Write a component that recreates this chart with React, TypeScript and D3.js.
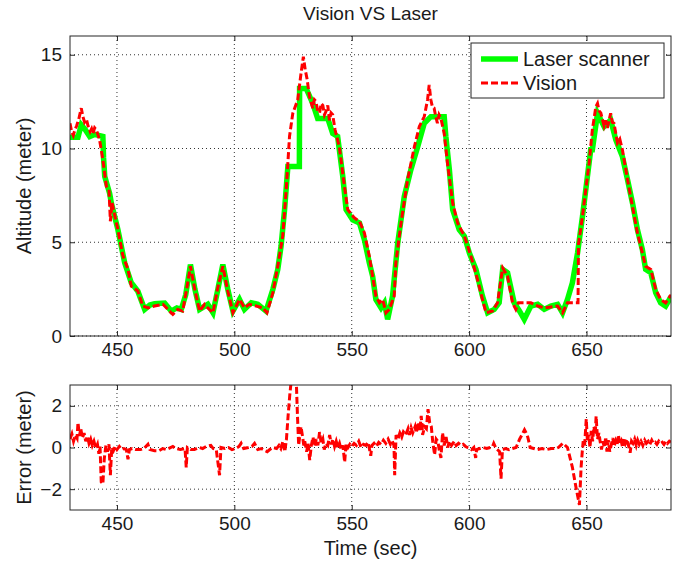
import { useEffect, useRef } from "react";
import * as d3 from "d3";

// laser scanner altitude (time, meter)
const laserT = [430, 433.4, 434.8, 436.5, 438.4, 440.5, 444, 444.3, 444.8, 446.9, 447.6, 450.4, 453.3, 456.1, 458.9, 461.8, 464, 466, 470.3, 473.1, 475.5, 477.4, 479.3, 481.3, 483.2, 485.2, 488.7, 490.9, 493, 495.1, 497.2, 499.4, 502.2, 504.3, 507.2, 510, 513.5, 516.4, 518.5, 519.9, 521.4, 522.8, 527.7, 527.8, 530.6, 533.4, 535.5, 539.8, 541.9, 544, 546.2, 547.6, 550.4, 553.3, 555.4, 557.5, 558.9, 560.3, 562.5, 563.9, 565.3, 567.4, 569.6, 572.4, 575.2, 578.1, 580.9, 583.7, 589.4, 590.1, 591.6, 593, 595.8, 598, 600.1, 602.9, 605.7, 607.9, 610.7, 612.8, 614.3, 616.4, 619.2, 621.5, 623.5, 626.3, 629.2, 632, 634.8, 637.7, 639.8, 641.9, 644, 646.2, 648.3, 650.4, 651.8, 652.5, 654.7, 657.5, 660.3, 662.5, 665.3, 667.5, 669.6, 671.7, 673.8, 675.2, 677.4, 679.5, 681.6, 683.7, 686];
const laserV = [10.6, 10.6, 11.26, 11.0, 10.64, 10.75, 10.64, 9.5, 8.5, 7.6, 7.1, 5.67, 3.9, 2.84, 2.39, 1.42, 1.65, 1.72, 1.76, 1.33, 1.5, 1.42, 2.2, 3.81, 2.5, 1.42, 1.69, 1.24, 2.5, 3.81, 2.5, 1.33, 1.95, 1.42, 1.77, 1.69, 1.33, 2.48, 3.55, 4.79, 6.74, 9.04, 9.04, 13.2, 13.2, 12.4, 11.6, 11.6, 10.8, 10.64, 8.5, 6.74, 6.2, 6.03, 5.14, 3.9, 3.19, 1.95, 1.5, 1.77, 0.89, 2.13, 4.96, 7.45, 8.87, 10.1, 11.35, 11.7, 11.7, 10.64, 8.87, 6.74, 5.67, 5.32, 4.43, 3.55, 2.13, 1.24, 1.42, 1.77, 3.55, 3.37, 1.77, 1.33, 0.89, 1.6, 1.69, 1.42, 1.6, 1.69, 1.24, 1.95, 2.84, 4.43, 6.38, 8.51, 9.93, 9.93, 11.88, 11.17, 11.53, 10.46, 9.57, 8.33, 7.09, 5.67, 4.61, 3.55, 3.37, 2.3, 1.77, 1.6, 2.1];

// vision altitude (time, meter)
const visionT = [430, 430.7, 431.4, 432.1, 432.8, 433.8, 434.8, 435.5, 436.2, 437, 437.7, 438.6, 439.2, 439.8, 440.5, 441.2, 442, 442.6, 444, 445.5, 446.6, 447.2, 447.9, 450.4, 452.5, 454.7, 456.1, 458.9, 461, 463.2, 466, 469.6, 471.7, 473.8, 475.9, 478, 479.7, 481.3, 483.3, 485.2, 487.3, 488.7, 490.9, 493, 495.1, 497.2, 499.4, 502.2, 504.3, 506.4, 509.3, 512.1, 513.9, 516.4, 518.5, 520.6, 522.1, 523.5, 524.9, 527, 528.4, 529.4, 530.2, 531, 532, 533.4, 534.1, 534.8, 535.5, 536.3, 537, 537.7, 538.4, 539.1, 539.8, 540.5, 541.2, 541.9, 542.9, 544.7, 546.9, 548.3, 551.1, 553.3, 555.4, 557.5, 558.9, 560.3, 561.8, 563.2, 564.6, 566, 568.1, 568.8, 571, 573.8, 576.7, 578.8, 580.9, 582.3, 583, 583.7, 584.4, 585.1, 585.8, 586.5, 587.2, 588, 589.4, 590.8, 593, 595.1, 598, 600.8, 603.6, 605.7, 607.2, 610, 612.1, 614.3, 616.4, 618.5, 619.9, 621, 626.3, 629.2, 632, 634.8, 637.7, 639.8, 641.9, 646.4, 646.6, 648.3, 649.7, 651.1, 652.5, 654, 654.7, 655.4, 656.1, 657.5, 658.2, 658.9, 660.3, 661, 661.7, 663.2, 664.2, 665.3, 667.5, 669.6, 671.7, 673.8, 675.2, 677.4, 679.5, 681.6, 683.7, 686];
const visionV = [11.35, 10.9, 10.7, 11.0, 11.2, 11.6, 12.15, 11.7, 11.4, 11.55, 11.2, 10.9, 11.05, 10.8, 11.1, 11.0, 10.7, 10.46, 9.4, 7.98, 7.8, 6.12, 7.1, 5.67, 4.3, 3.55, 2.66, 2.4, 1.6, 1.5, 1.6, 1.69, 1.42, 1.15, 1.42, 1.33, 2.5, 3.72, 2.4, 1.33, 1.69, 1.5, 1.24, 2.6, 3.72, 2.4, 1.24, 1.95, 1.5, 1.69, 1.6, 1.5, 1.24, 2.3, 3.72, 5.32, 7.8, 10.64, 11.88, 12.59, 14.0, 14.9, 14.2, 13.7, 12.77, 12.15, 12.6, 12.5, 12.0, 11.9, 12.4, 12.3, 11.8, 12.0, 12.3, 11.5, 11.9, 11.8, 11.0, 10.1, 7.98, 6.74, 6.3, 6.12, 5.5, 4.25, 3.19, 2.13, 1.77, 1.95, 1.24, 1.42, 2.13, 3.9, 6.03, 8.33, 10.1, 11.17, 11.7, 12.6, 13.39, 12.6, 12.2, 12.15, 11.7, 11.35, 11.8, 11.6, 10.8, 9.2, 7.1, 6.03, 5.32, 4.25, 3.01, 1.95, 1.24, 1.33, 1.77, 3.63, 3.19, 1.77, 1.42, 1.77, 1.77, 1.6, 1.5, 1.55, 1.6, 1.24, 1.77, 1.77, 4.9, 6.38, 7.8, 9.2, 11.0, 12.23, 12.4, 12.0, 11.9, 11.2, 11.5, 11.1, 11.88, 11.4, 11.35, 10.3, 10.5, 9.93, 8.33, 6.9, 5.5, 4.43, 3.72, 3.55, 2.48, 1.95, 1.77, 2.2];

// error (time, meter)
const errT = [430, 430.8, 431.5, 432.3, 433, 433.4, 434, 434.6, 435.3, 436, 436.7, 437.4, 438.1, 438.8, 439.5, 440.2, 441, 441.7, 442.3, 442.8, 443.3, 444, 444.6, 445.3, 446, 446.6, 447.2, 447.8, 448.5, 449.2, 450, 451, 452, 453, 454, 454.7, 455.3, 456.5, 458, 460, 461.5, 463.2, 464, 466, 468, 469.5, 471, 473.8, 475, 477, 479, 479.5, 480, 481.5, 483, 485, 486.5, 488, 490, 491, 492.3, 493.7, 494.3, 496, 497.5, 499, 500.5, 502, 502.9, 504, 506, 507.5, 508.6, 510, 511.5, 513, 514, 515.1, 516.5, 518, 519, 519.8, 520.7, 521.5, 522.2, 522.9, 523.6, 524.5, 525.5, 526.3, 526.9, 527.4, 527.9, 528.4, 529, 529.6, 530, 530.8, 531.4, 532.1, 532.8, 533.5, 534.2, 534.9, 535.6, 536.3, 537, 537.7, 538.3, 539, 539.8, 540.6, 541.3, 542, 542.7, 543.4, 544.1, 544.8, 545.5, 546.2, 547, 547.6, 548.4, 549.2, 550, 551, 552, 553, 554, 555, 556, 557, 558.1, 558.6, 559.5, 560.5, 561.5, 562.5, 563.5, 564.5, 565.5, 566.5, 567.3, 568, 568.3, 568.9, 569.7, 570.5, 571.3, 572, 573, 574, 574.6, 575.3, 576, 577, 577.5, 578.3, 579, 579.6, 580.2, 581, 581.8, 582.5, 583.2, 583.9, 584.5, 585.3, 586, 586.7, 587.4, 588, 588.7, 589.4, 590.2, 590.9, 591.6, 592.5, 593.7, 594.5, 595.5, 596.5, 597.5, 598.5, 599.3, 600.2, 601, 602, 602.8, 603.2, 604.5, 606, 607.5, 609, 610, 610.5, 611.5, 613, 613.6, 614.2, 615.5, 617, 618.5, 620, 620.8, 621.5, 622.5, 623.6, 624.3, 625, 626, 627.5, 629, 631, 633, 635, 637, 638, 639, 639.8, 640.5, 641.9, 643, 644, 645.5, 647, 647.7, 648.2, 648.6, 649.2, 649.9, 650.4, 650.9, 651.5, 652, 652.6, 653.2, 653.7, 654.1, 654.7, 655.3, 655.8, 656.4, 657, 657.6, 658.2, 658.7, 659.3, 659.9, 660.5, 661.2, 661.8, 662.4, 663, 663.6, 664.2, 664.8, 665.4, 666, 666.6, 667.3, 667.9, 668.6, 669.2, 669.8, 670.5, 671.2, 671.8, 672.5, 673.2, 674, 674.8, 675.5, 676.3, 677, 677.8, 678.5, 679.3, 680, 680.8, 681.5, 682.3, 683, 683.8, 684.5, 685.3, 686];
const errV = [0.41, 0.65, 0.3, 0.6, 0.45, 1.2, 0.55, 0.9, 0.45, 0.7, 0.3, 0.55, 0.2, 0.4, 0.1, 0.3, -0.05, 0.15, -0.3, 0.05, -1.65, -1.75, -0.54, 0.1, -0.2, 0.15, -1.33, 0, -0.15, 0.05, -0.1, 0.05, -0.1, -0.05, -0.1, -0.57, -0.1, -0.05, -0.1, -0.1, -0.05, 0.15, -0.1, -0.15, -0.15, -0.05, -0.1, 0.05, -0.05, -0.1, -0.05, -0.95, 0, -0.1, -0.1, 0, -0.05, 0.05, 0.1, -0.05, -0.1, -1.33, 0, -0.05, 0, -0.1, -0.05, 0.05, 0.2, -0.05, 0, 0.05, 0.2, -0.1, -0.05, -0.15, -0.2, -0.1, 0, -0.05, 0.1, -0.05, 0.3, -0.2, 0.4, 1.52, 2.5, 3.5, 4.5, 3.5, 1.5, 0.1, 0.6, 1.0, 0.57, 0.1, 0.3, -0.2, 0.2, -0.6, 0.1, 0.5, 0.05, 0.4, 0.1, 0.74, 0.2, 0.4, -0.1, 0.2, 0.1, 0.6, 0.15, 0.4, 0.05, 0.3, 0, 0.2, -0.1, 0.1, -0.7, 0.2, 0, 0.15, 0.05, 0.2, 0.1, 0.3, 0, 0.15, 0.1, 0.25, -0.4, 0.1, 0.2, 0.05, 0.25, 0.15, 0.35, 0.2, 0.4, 0.15, 0.3, 0.1, -1.33, 0.6, 0.4, 0.7, 0.5, 0.75, 0.6, 0.9, 0.6, 0.95, 0.7, 1.0, 0.7, 1.2, 0.8, 1.52, 0.6, 1.0, 0.9, 1.84, 1.2, 1.0, 0.3, -0.35, 0.4, 0.3, -0.2, -0.5, 0.7, 0.1, 0.5, 0, 0.3, 0.1, 0.3, 0.1, 0.2, 0.1, 0.15, 0.05, 0, -0.05, -0.1, 0, -0.5, -0.1, -0.05, 0, -0.05, 0, 0.05, 0.2, -0.05, -0.2, -1.5, -0.1, -0.05, -0.1, -0.05, 0, 0.2, 0.4, 0.6, 0.85, 0.7, 0.5, 0, -0.05, -0.1, -0.05, -0.1, -0.05, -0.05, 0, 0.1, 0.2, 0.15, 0, -0.5, -0.95, -1.9, -2.76, -0.95, -0.2, 0.3, 0.1, 1.36, 0.3, 0.6, 0, 0.8, 0.3, 1.0, 0.6, 1.5, 0.4, 0.7, 0.3, -0.1, 0.3, 0, 0.5, -0.2, 0.35, -0.2, 0.1, 0.45, 0.05, 0.3, 0.1, 0.6, 0.15, 0.3, 0, 0.45, 0.2, 0.4, 0.1, -0.25, 0.3, 0.2, 0.4, 0.1, 0.35, 0.15, 0.3, 0.1, 0.35, 0.2, 0.3, 0.15, 0.35, 0.2, 0.25, 0.15, 0.3, 0.2, 0.25, 0.15, 0.3, 0.2, 0.3, 0.25];

const xTicks = [450, 500, 550, 600, 650];
const altTicks = [0, 5, 10, 15];
const errTicks = [-2, 0, 2];
const seriesNames = ["Laser scanner", "Vision"];

const FONT = "'Liberation Sans', Arial, sans-serif";
const FRAME = "#262626";
const GREEN = "#00ff00";
const RED = "#ff0000";

function App() {
  const ref = useRef<SVGSVGElement>(null);
  const width = 684;
  const height = 565;
  const left = 70, right = 671;
  const top1 = 36, bot1 = 336;
  const top2 = 385, bot2 = 510;

  useEffect(() => {
    const svg = d3.select(ref.current);
    svg.selectAll("*").remove();

    const x = d3.scaleLinear().domain([430, 686]).range([left, right]);
    const yA = d3.scaleLinear().domain([0, 16]).range([bot1, top1]);
    const yE = d3.scaleLinear().domain([-3, 3]).range([bot2, top2]);

    const defs = svg.append("defs");
    defs.append("clipPath").attr("id", "clipA")
      .append("rect").attr("x", left).attr("y", top1).attr("width", right - left).attr("height", bot1 - top1);
    defs.append("clipPath").attr("id", "clipE")
      .append("rect").attr("x", left).attr("y", top2).attr("width", right - left).attr("height", bot2 - top2);

    const drawPanel = (y: d3.ScaleLinear<number, number>, yTicks: number[], t: number, b: number) => {
      svg.append("rect").attr("x", left).attr("y", t).attr("width", right - left).attr("height", b - t).attr("fill", "white");

      // dotted grid
      const grid = svg.append("g").attr("stroke", "#333").attr("stroke-width", 1).attr("stroke-dasharray", "1,3");
      xTicks.forEach(v => grid.append("line").attr("x1", x(v)).attr("x2", x(v)).attr("y1", t).attr("y2", b));
      yTicks.forEach(v => grid.append("line").attr("x1", left).attr("x2", right).attr("y1", y(v)).attr("y2", y(v)));

      const style = (g: any) => {
        g.select(".domain").remove();
        g.selectAll("line").attr("stroke", FRAME);
        g.selectAll("text").attr("font-family", FONT).attr("font-size", 19).attr("fill", "#1a1a1a");
      };
      svg.append("g").attr("transform", `translate(0,${b})`)
        .call(d3.axisBottom(x).tickValues(xTicks).tickSizeInner(-5).tickSizeOuter(0).tickPadding(7))
        .call(style);
      svg.append("g").attr("transform", `translate(0,${t})`)
        .call(d3.axisTop(x).tickValues(xTicks).tickSizeInner(-5).tickSizeOuter(0).tickFormat(() => ""))
        .call(style);
      svg.append("g").attr("transform", `translate(${left},0)`)
        .call(d3.axisLeft(y).tickValues(yTicks).tickSizeInner(-5).tickSizeOuter(0).tickPadding(8).tickFormat(d3.format("d")))
        .call(style);
      svg.append("g").attr("transform", `translate(${right},0)`)
        .call(d3.axisRight(y).tickValues(yTicks).tickSizeInner(-5).tickSizeOuter(0).tickFormat(() => ""))
        .call(style);
    };

    drawPanel(yA, altTicks, top1, bot1);
    drawPanel(yE, errTicks, top2, bot2);

    const altLine = d3.line<[number, number]>().x(d => x(d[0])).y(d => yA(d[1]));
    const errLine = d3.line<[number, number]>().x(d => x(d[0])).y(d => yE(d[1]));

    svg.append("path")
      .attr("clip-path", "url(#clipA)")
      .attr("d", altLine(d3.zip(laserT, laserV) as [number, number][]))
      .attr("fill", "none").attr("stroke", GREEN).attr("stroke-width", 5.5)
      .attr("stroke-linejoin", "miter");
    svg.append("path")
      .attr("clip-path", "url(#clipA)")
      .attr("d", altLine(d3.zip(visionT, visionV) as [number, number][]))
      .attr("fill", "none").attr("stroke", RED).attr("stroke-width", 3)
      .attr("stroke-dasharray", "7,3");
    svg.append("path")
      .attr("clip-path", "url(#clipE)")
      .attr("d", errLine(d3.zip(errT, errV) as [number, number][]))
      .attr("fill", "none").attr("stroke", RED).attr("stroke-width", 3)
      .attr("stroke-dasharray", "7,3");

    // frames
    [[top1, bot1], [top2, bot2]].forEach(([t, b]) => {
      svg.append("rect").attr("x", left).attr("y", t).attr("width", right - left).attr("height", b - t)
        .attr("fill", "none").attr("stroke", FRAME).attr("stroke-width", 1);
    });

    // legend
    const lg = svg.append("g");
    lg.append("rect").attr("x", 471).attr("y", 43).attr("width", 193).attr("height", 55)
      .attr("fill", "white").attr("stroke", FRAME).attr("stroke-width", 1);
    seriesNames.forEach((name, i) => {
      const yy = 59 + i * 24;
      lg.append("line").attr("x1", 481).attr("x2", 518).attr("y1", yy).attr("y2", yy)
        .attr("stroke", i === 0 ? GREEN : RED)
        .attr("stroke-width", i === 0 ? 5.5 : 3)
        .attr("stroke-dasharray", i === 0 ? null : "7,3");
      lg.append("text").attr("x", 523).attr("y", yy).attr("dy", "0.35em")
        .attr("font-family", FONT).attr("font-size", 20).attr("fill", "#1a1a1a").text(name);
    });

    // titles
    svg.append("text").attr("x", (left + right) / 2).attr("y", 20).attr("text-anchor", "middle")
      .attr("font-family", FONT).attr("font-size", 19).attr("fill", "#1a1a1a").text("Vision VS Laser");
    svg.append("text").attr("x", (left + right) / 2).attr("y", 555).attr("text-anchor", "middle")
      .attr("font-family", FONT).attr("font-size", 20).attr("fill", "#1a1a1a").text("Time (sec)");
    svg.append("text").attr("transform", `translate(31,${(top1 + bot1) / 2}) rotate(-90)`).attr("text-anchor", "middle")
      .attr("font-family", FONT).attr("font-size", 20).attr("fill", "#1a1a1a").text("Altitude (meter)");
    svg.append("text").attr("transform", `translate(31,${(top2 + bot2) / 2}) rotate(-90)`).attr("text-anchor", "middle")
      .attr("font-family", FONT).attr("font-size", 20).attr("fill", "#1a1a1a").text("Error (meter)");
  });

  return (
    <div style={{ position: "absolute", left: 0, top: 0 }}>
      <svg ref={ref} width={width} height={height} style={{ display: "block", background: "white" }}></svg>
    </div>
  );
}

export default App;
